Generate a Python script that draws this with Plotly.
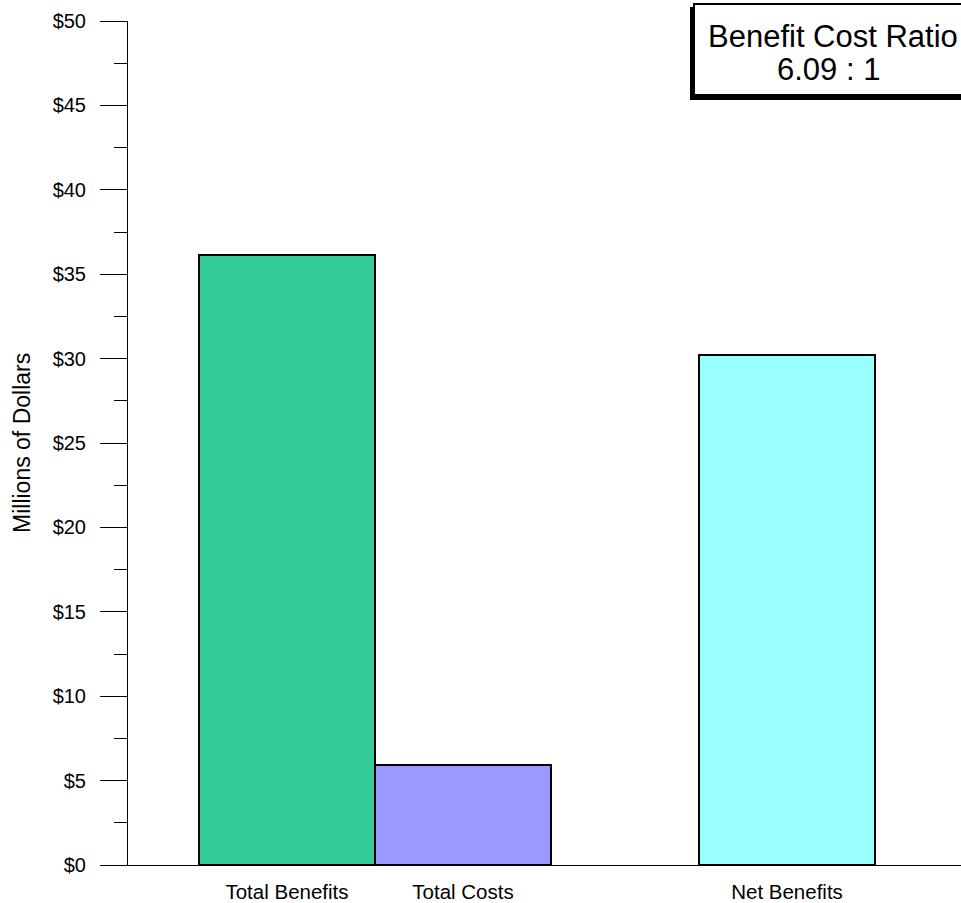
import plotly.graph_objects as go

categories = ["Total Benefits", "Total Costs", "Net Benefits"]
values = [36.14, 5.93, 30.21]
colors = ["#33CC99", "#9999FF", "#99FFFF"]
ratio_title = "Benefit Cost Ratio"
ratio_text = "6.09 : 1"
y_ticks = [0, 5, 10, 15, 20, 25, 30, 35, 40, 45, 50]
y_labels = ["$" + str(v) for v in y_ticks]

# layout: plot area in pixels
W, H = 961, 903
L, R, T, B = 128, 0, 21, 38
pw = W - L - R
ph = H - T - B
bar_px = 176.0
x_centers = [(287 - L) / bar_px, (463 - L) / bar_px, (787 - L) / bar_px]
x_max = pw / bar_px

def px_x(px):
    return (px - L) / pw

def px_y(py):
    return (H - B - py) / ph

fig = go.Figure()
fig.add_trace(go.Bar(
    x=x_centers, y=values, width=1.0,
    marker=dict(color=colors, line=dict(color="black", width=2)),
    showlegend=False, hoverinfo="y",
))

font = "Liberation Sans, Arial, sans-serif"
fig.update_layout(
    width=W, height=H,
    margin=dict(l=L, r=R, t=T, b=B, pad=0),
    paper_bgcolor="white", plot_bgcolor="white",
    font=dict(family=font, color="black", size=20),
    bargap=0,
    xaxis=dict(
        range=[0, x_max], tickvals=x_centers, ticktext=categories,
        showgrid=False, zeroline=False, showline=True, linecolor="black", linewidth=1,
        ticks="outside", ticklen=8, tickcolor="rgba(0,0,0,0)",
        tickfont=dict(size=20.5, family=font),
    ),
    yaxis=dict(
        range=[0, 50], tickvals=y_ticks, ticktext=y_labels,
        showgrid=False, zeroline=False, showline=True, linecolor="black", linewidth=1,
        ticks="outside", ticklen=27, tickcolor="black", tickwidth=1,
        ticklabelstandoff=10,
        minor=dict(dtick=2.5, ticks="outside", ticklen=13, tickcolor="black", tickwidth=1, showgrid=False),
        tickfont=dict(size=20, family=font),
    ),
)

fig.add_annotation(xref="paper", yref="paper", x=px_x(22), y=0.5,
                   text="Millions of Dollars", showarrow=False, textangle=-90,
                   font=dict(size=23, family=font), xanchor="center", yanchor="middle")

# ratio box with shadow (thicker left and bottom edges)
fig.add_shape(type="rect", xref="paper", yref="paper",
              x0=px_x(690), x1=px_x(980), y0=px_y(100), y1=px_y(7),
              fillcolor="black", line=dict(width=0), layer="above")
fig.add_shape(type="rect", xref="paper", yref="paper",
              x0=px_x(694), x1=px_x(984), y0=px_y(95), y1=px_y(4),
              fillcolor="white", line=dict(color="black", width=2), layer="above")
fig.add_annotation(xref="paper", yref="paper", x=px_x(832.5), y=px_y(36.5),
                   text=ratio_title, showarrow=False, font=dict(size=31, family=font),
                   xanchor="center", yanchor="middle")
fig.add_annotation(xref="paper", yref="paper", x=px_x(828.5), y=px_y(69.5),
                   text=ratio_text, showarrow=False, font=dict(size=31, family=font),
                   xanchor="center", yanchor="middle")

fig.write_html("out.html")
